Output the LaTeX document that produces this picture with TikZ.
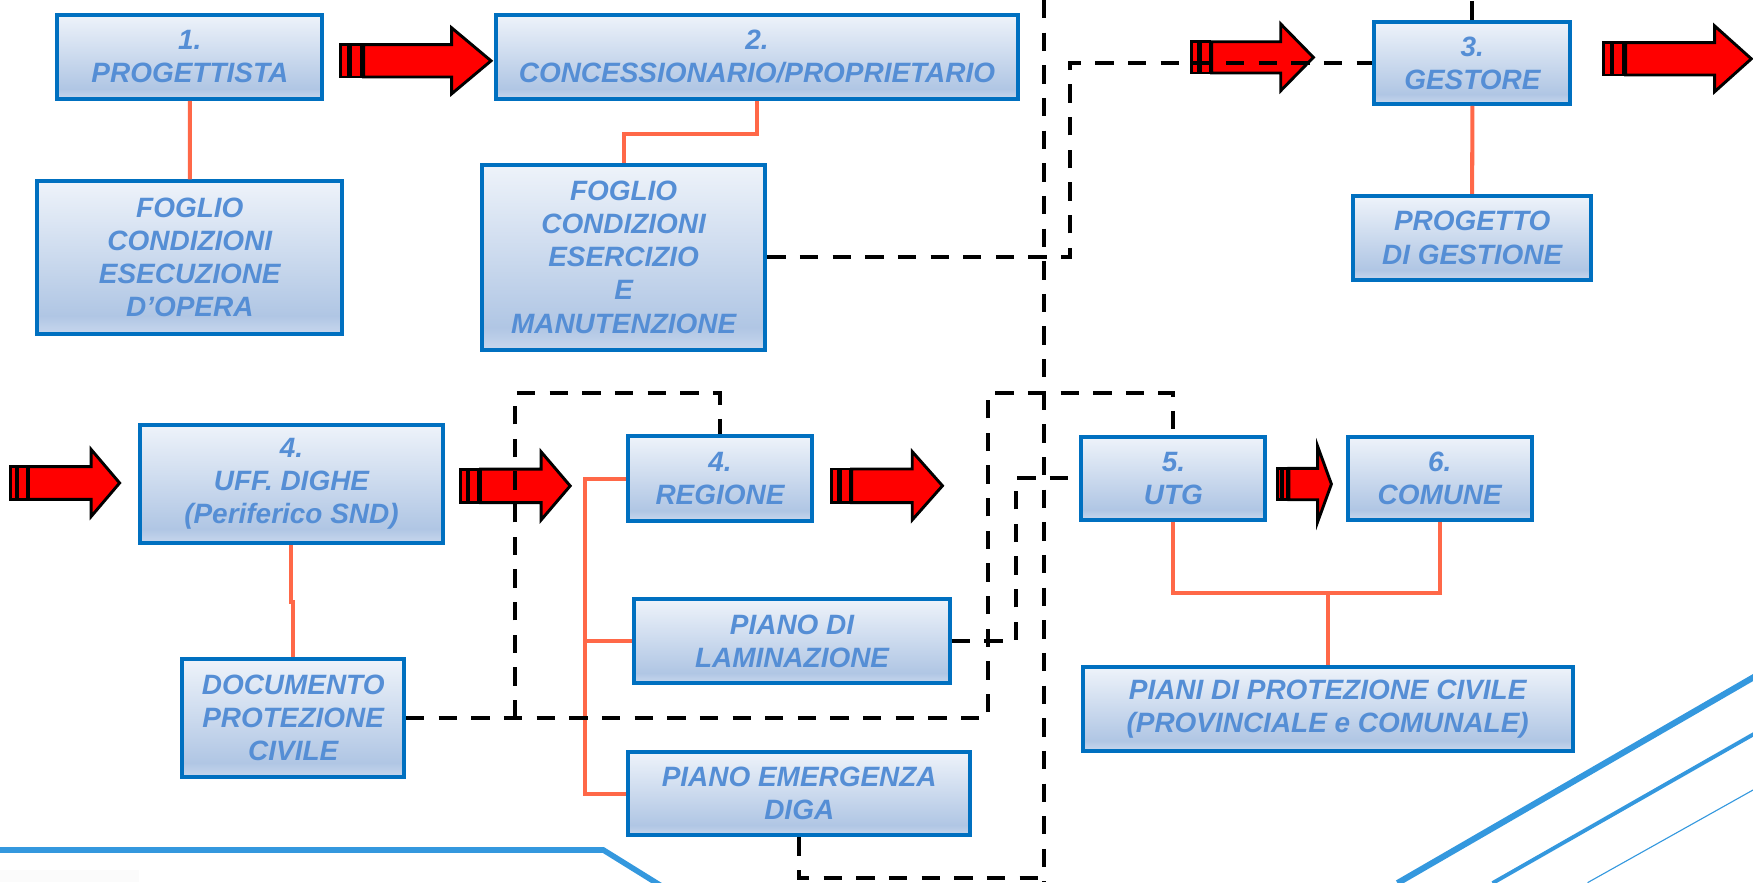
\documentclass[tikz,border=0pt]{standalone}
\usepackage{fontspec}
\setmainfont{Liberation Sans}
\definecolor{txtblue}{RGB}{85,142,213}
\definecolor{bordblue}{RGB}{0,112,192}
\definecolor{orl}{RGB}{255,104,72}
\definecolor{decob}{RGB}{52,152,222}
\definecolor{gtop}{RGB}{238,243,250}
\definecolor{gmid}{RGB}{176,198,228}
\definecolor{gbot}{RGB}{200,215,237}
\definecolor{faint}{RGB}{251,251,251}
\pgfdeclareverticalshading{boxshade}{100bp}{color(0bp)=(gbot); color(25bp)=(gbot); color(31bp)=(gmid); color(75bp)=(gtop); color(100bp)=(gtop)}
\tikzset{
  box/.style={draw=bordblue, line width=1.8pt, shade, shading=boxshade, align=center, inner sep=0pt,
    text=txtblue, font=\fontsize{12.5}{14.8}\selectfont\bfseries\itshape},
  orline/.style={draw=orl, line width=1.8pt},
  dline/.style={draw=black, line width=1.8pt, dash pattern=on 8.2pt off 6.4pt},
  arr/.style={fill=red, draw=black, line width=1.3pt, line join=miter},
  deco/.style={draw=decob}
}
% #1 name #2 x1 #3 y1 #4 x2 #5 y2 #6 text (outer edges, px of a 1568x789 frame)
\newcommand\mybox[6]{\node[box, minimum width={(#4-#2-3.6)*0.5pt}, minimum height={(#5-#3-3.6)*0.5pt}] (#1) at ({(#2+#4)/2},{(#3+#5)/2}) {#6};}
% #1 x0 #2 cy #3 head start #4 tip #5 shaft half #6 head half #7 body offset
\newcommand\blockarrow[7]{%
  \filldraw[arr] (#1,{#2-#5}) rectangle ({#1+0.36*#7},{#2+#5});
  \filldraw[arr] ({#1+0.43*#7},{#2-#5}) rectangle ({#1+0.92*#7},{#2+#5});
  \filldraw[arr] ({#1+#7},{#2-#5}) -- (#3,{#2-#5}) -- (#3,{#2-#6}) -- (#4,#2) -- (#3,{#2+#6}) -- (#3,{#2+#5}) -- ({#1+#7},{#2+#5}) -- cycle;}
\begin{document}
\begin{tikzpicture}[x=0.5pt,y=-0.5pt]
\useasboundingbox (0,0) rectangle (1568,789);
\fill[faint] (0,778) rectangle (124,789);
\begin{scope}
  \clip (0,0) rectangle (1568,789);
  \draw[deco, line width=2.5pt] (-5,760.3) -- (539.7,760.3) -- (600,797.7);
  \draw[deco, line width=2.75pt] (1250,789.9) -- (1575,602);
  \draw[deco, line width=1.75pt] (1335,789.9) -- (1575,653);
  \draw[deco, line width=0.5pt] (1420,789.5) -- (1575,702.7);
\end{scope}

% block arrows
\blockarrow{304.7}{54.4}{404}{439.2}{14.5}{29.5}{20.5}
\blockarrow{1065.7}{51.3}{1145.6}{1174.8}{14}{29.8}{18}
\blockarrow{1434}{52.6}{1533.7}{1566.5}{14.5}{29.4}{20}
\blockarrow{9}{432}{81.5}{107}{14.6}{30}{16.5}
\blockarrow{411.8}{434.6}{484}{510}{15}{30.5}{18}
\blockarrow{743.7}{434.5}{816}{843}{15}{30.5}{18}
\blockarrow{1142.8}{433}{1178.5}{1190.9}{14}{34}{10}

% boxes
\mybox{b1}{49.6}{11.3}{290}{90.3}{1.\\PROGETTISTA}
\mybox{b2}{441.6}{11.3}{912.5}{90.3}{2.\\CONCESSIONARIO/PROPRIETARIO}
\mybox{b3}{1227.5}{17.9}{1406.4}{94.8}{3.\\GESTORE}
\mybox{f1}{31.5}{160.4}{308}{300.5}{FOGLIO\\CONDIZIONI\\ESECUZIONE\\D’OPERA}
\mybox{f2}{429.3}{145.5}{686.3}{314.6}{FOGLIO\\CONDIZIONI\\ESERCIZIO\\E\\MANUTENZIONE}
\mybox{pg}{1208.6}{173.5}{1425}{252}{PROGETTO\\DI GESTIONE}
\mybox{b4}{123}{378}{398.4}{487.5}{4.\\UFF. DIGHE\\(Periferico SND)}
\mybox{rg}{560}{388.5}{728}{467.5}{4.\\REGIONE}
\mybox{utg}{965.5}{389}{1133.7}{466.6}{5.\\UTG}
\mybox{com}{1203.7}{389}{1371.8}{466.6}{6.\\COMUNE}
\mybox{lam}{565.7}{534.3}{851.2}{612.7}{PIANO DI\\LAMINAZIONE}
\mybox{doc}{161.3}{588}{363.2}{696.8}{DOCUMENTO\\PROTEZIONE\\CIVILE}
\mybox{pe}{560}{670.8}{869.8}{749}{PIANO EMERGENZA\\DIGA}
\mybox{pp}{966.6}{594.8}{1408.5}{673.2}{PIANI DI PROTEZIONE CIVILE\\(PROVINCIALE e COMUNALE)}

% orange links
\draw[orline] (b1.south) -- (f1.north);
\draw[orline] (b2.south) -- ++(0,29.3) -| (f2.north);
\draw[orline] (b3.south) -- (pg.north);
\draw[orline] (b4.south) -- ++(0,51) -| (doc.north);
\coordinate (ox) at (523,0);
\draw[orline] (rg.west) -| (ox |- pe.west) -- (pe.west);
\draw[orline] (ox |- lam.west) -- (lam.west);
\coordinate (uj) at (0,530);
\draw[orline] (utg.south) -- (utg.south |- uj) -- (com.south |- uj) -- (com.south);
\draw[orline] (pp.north) -- (pp.north |- uj);

% dashed links
\coordinate (vt) at (934,0);
\coordinate (vb) at (934,789);
\draw[dline] (vt) -- (vb);
\coordinate (dx) at (957,0);
\draw[dline] (f2.east) -- (dx |- f2.east) -- (dx |- b3.west) -- (b3.west);
\draw[line width=1.8pt] (b3.north) -- ++(0,-17);
\coordinate (L1) at (883.4,351.8);
\draw[dline] (doc.east) -| (L1) -| (utg.north);
\coordinate (L2) at (461,351.8);
\draw[dline] (L2 |- doc.east) -- (L2) -| (rg.north);
\coordinate (L3) at (908.5,0);
\draw[dline] (lam.east) -- (L3 |- lam.east) -- (L3 |- utg.west) -- (utg.west);
\coordinate (L4) at (934,785.6);
\draw[dline] (pe.south) |- (L4);
\end{tikzpicture}
\end{document}
